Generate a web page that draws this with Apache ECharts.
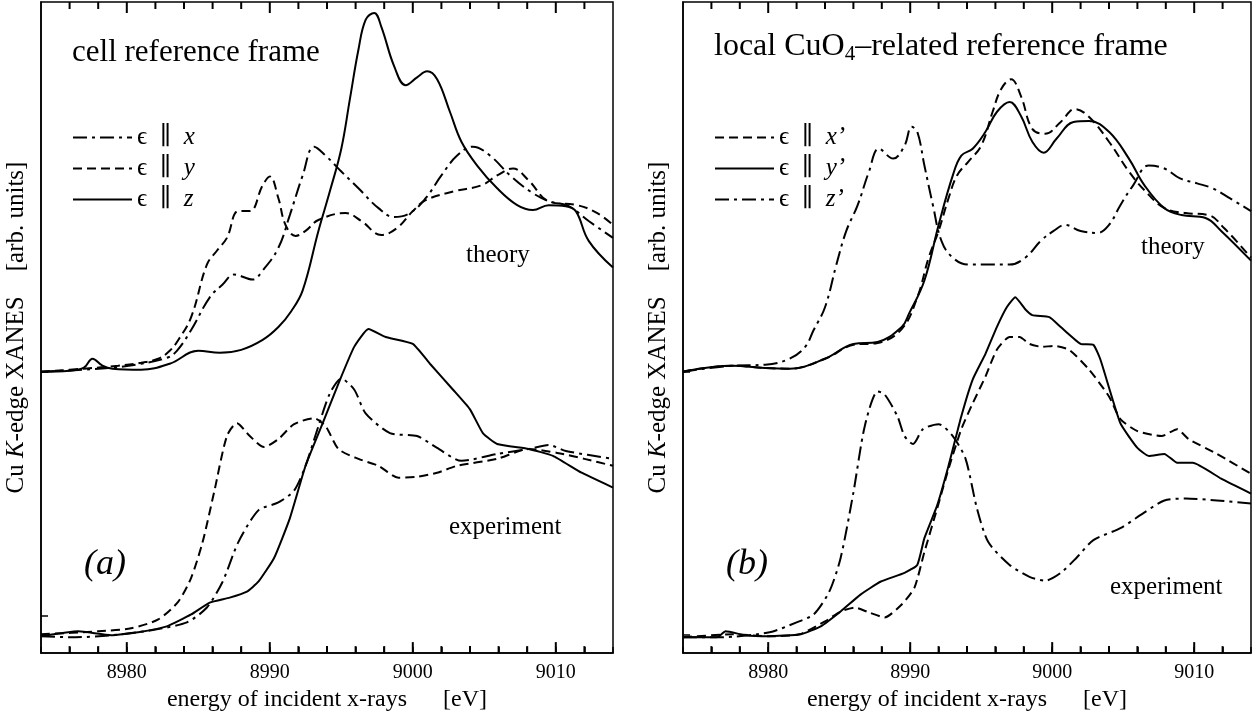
<!DOCTYPE html>
<html>
<head>
<meta charset="utf-8">
<script src="https://cdn.jsdelivr.net/npm/echarts@6/dist/echarts.min.js"></script>
<style>
  html, body { margin: 0; padding: 0; background: #fff; }
  #chart { width: 1256px; height: 717px; }
</style>
</head>
<body>
<div id="chart"></div>
<script>
// energy axis
const xMin = 8974;
const xMax = 9014;
const yMax = 657;
const majorTicks = [8980, 8990, 9000, 9010];
const minorTicks = [8976, 8978, 8982, 8984, 8986, 8988, 8992, 8994, 8996, 8998, 9002, 9004, 9006, 9008, 9012];

// panel (a): theory, cell reference frame  [eV, arb. units]
const thX_a = [[8974,284],[8977,286],[8979,288],[8981,292],[8982.8,298],[8983.5,305],[8984.5,326],[8985.8,359],[8986.7,372],[8987.5,382],[8988.8,377],[8989.5,386],[8990.6,409],[8991.4,442],[8992.3,482],[8993.1,511],[8993.9,502],[8995,486],[8996.2,469],[8997.6,449],[8998.7,440],[8999.8,444],[9000.9,459],[9002,482],[9003.1,502],[9004.2,511],[9005.4,502],[9006.8,482],[9008.2,466],[9009.5,456],[9010.9,451],[9012.3,436],[9014,419]];
const thY_a = [[8974,284],[8977,287],[8979.4,290],[8981,293],[8982.2,297],[8983,305],[8983.6,316],[8984.5,339],[8985.6,392],[8986.3,406],[8987,419],[8987.8,446],[8988.6,446],[8989.5,472],[8990,481],[8990.6,459],[8991.1,432],[8991.8,421],[8992.5,426],[8993.4,437],[8995.3,444],[8996.4,436],[8997.8,422],[8998.9,429],[9000,446],[9000.9,457],[9002.9,466],[9004.8,472],[9005.9,482],[9007,489],[9008.1,477],[9009.5,456],[9011.5,452],[9012.9,444],[9014,432]];
const thZ_a = [[8974,284],[8976,285],[8977,288],[8977.6,297],[8978.3,290],[8979,287],[8981,286],[8983,292],[8985,305],[8986.5,303],[8988,306],[8989.5,316],[8990.6,329],[8991.5,345],[8992.3,366],[8993.4,426],[8994.2,466],[8995,509],[8995.6,559],[8996.2,609],[8996.7,639],[8997.3,646],[8997.8,632],[8998.7,592],[8999.5,573],[9000.3,581],[9001,587],[9001.7,579],[9002.6,546],[9003.4,516],[9004.5,492],[9005.9,469],[9007.3,452],[9008.4,447],[9009.5,452],[9010.7,451],[9011.4,446],[9012.3,416],[9014,389]];

// panel (a): experiment
const exX_a = [[8974,17],[8976.4,16],[8978.9,18],[8981.7,23],[8984.2,31],[8985.6,46],[8986.7,72],[8987.8,112],[8989.2,144],[8990.6,152],[8991.7,164],[8992.5,189],[8993.4,229],[8994.2,262],[8995,277],[8995.9,266],[8996.7,242],[8998.4,222],[9000.3,219],[9001.7,207],[9003.4,194],[9005.9,201],[9008.1,206],[9009.5,210],[9010.7,204],[9014,196]];
const exY_a = [[8974,19],[8978,22],[8980.3,25],[8982.2,34],[8983.6,52],[8984.5,76],[8985.3,112],[8986.1,162],[8987,219],[8987.7,232],[8988.6,219],[8989.6,208],[8990.6,216],[8991.7,231],[8993.1,237],[8993.9,229],[8994.8,206],[8996.2,196],[8997.6,189],[8999,177],[9000.3,178],[9001.7,182],[9003.1,189],[9005.9,196],[9008.1,206],[9010.1,202],[9012,196],[9014,189]];
const exZ_a = [[8974,17],[8976.6,22],[8978.9,18],[8980.8,21],[8982.8,27],[8984.5,39],[8985.8,51],[8987.2,56],[8988.4,62],[8989.2,72],[8990.3,96],[8991.4,136],[8992.5,189],[8993.7,232],[8994.8,272],[8995.9,309],[8996.9,327],[8998.1,319],[9000,312],[9001.2,292],[9002.8,266],[9004,246],[9004.9,222],[9005.9,211],[9008.1,206],[9009.8,199],[9011.8,182],[9014,167]];

// panel (b): theory, local CuO4 frame
const thX_b = [[8974,284],[8977.5,290],[8979.5,288],[8981.5,287],[8984,297],[8986,311],[8987.7,313],[8989.4,327],[8990.5,359],[8991.3,399],[8992,426],[8992.7,459],[8993.3,482],[8994.1,496],[8995,512],[8995.8,546],[8996.4,569],[8997.1,579],[8997.8,562],[8998.6,529],[8999.5,524],[9000.6,536],[9001.6,549],[9002.6,541],[9004,516],[9005.4,486],[9006.5,467],[9007.9,449],[9009.4,444],[9011,442],[9012.1,429],[9014,399]];
const thY_b = [[8974,284],[8977.5,290],[8979.5,288],[8981.5,287],[8984,297],[8986,312],[8987.7,314],[8989.4,329],[8989.9,342],[8991,376],[8992,432],[8993,482],[8993.6,502],[8994.4,509],[8995.3,526],[8996.1,546],[8997,556],[8997.8,542],[8998.6,516],[8999.4,505],[9000.3,519],[9001.5,536],[9002.6,537],[9004,526],[9005.4,499],[9006.5,472],[9007.9,449],[9009.1,442],[9010.8,439],[9011.9,426],[9014,396]];
const thZ_b = [[8974,284],[8977.5,290],[8979.8,291],[8981.5,297],[8982.6,309],[8983.2,326],[8984,349],[8984.8,392],[8985.5,426],[8986.3,452],[8987.1,486],[8987.8,509],[8988.8,499],[8989.6,512],[8990.1,531],[8990.5,526],[8991,492],[8991.6,452],[8992.2,416],[8993,399],[8994.1,392],[8995.5,392],[8997,392],[8998.1,399],[8999.2,416],[9000.1,426],[9000.9,432],[9002,426],[9003.2,424],[9004,432],[9004.8,452],[9005.7,472],[9006.8,492],[9007.9,489],[9009,479],[9010.2,474],[9011.3,469],[9012.5,459],[9014,446]];

// panel (b): experiment
const exX_b = [[8974,16],[8977.5,19],[8980,17],[8982.2,19],[8984,32],[8985.1,42],[8986.1,46],[8987.1,41],[8988.2,36],[8989.4,49],[8990.3,66],[8991,102],[8991.9,146],[8992.7,186],[8993.6,226],[8994.4,252],[8995.3,279],[8996.1,306],[8997,319],[8997.7,319],[8998.4,312],[8999.3,309],[9000.1,310],[9001.2,306],[9002.6,286],[9004,259],[9004.8,236],[9006,224],[9007.7,219],[9008.8,226],[9009.6,216],[9011.6,201],[9014,181]];
const exY_b = [[8974,16],[8976.4,16],[8977,22],[8978.4,18],[8980,17],[8982.3,19],[8983.7,27],[8985.1,42],[8986.5,59],[8987.9,72],[8989.6,81],[8990.5,89],[8991,116],[8991.9,149],[8992.7,189],[8993.6,239],[8994.4,276],[8995.3,302],[8996.1,329],[8996.8,349],[8997.4,359],[8998.1,347],[8998.6,341],[8999.8,339],[9000.6,329],[9002,312],[9002.9,311],[9003.4,296],[9004.8,232],[9006,207],[9006.8,199],[9007.9,201],[9008.8,192],[9009.9,192],[9011.9,176],[9014,161]];
const exZ_b = [[8974,16],[8976.7,16],[8980.1,21],[8982,31],[8983.2,39],[8984.3,62],[8985.1,96],[8986,162],[8986.8,229],[8987.7,264],[8988.2,261],[8989.1,239],[8989.6,219],[8990.2,211],[8990.9,226],[8992,231],[8993,219],[8993.9,196],[8994.7,146],[8995.5,112],[8997,89],[8998.4,77],[8999.5,73],[9000.6,81],[9001.7,96],[9002.9,114],[9004.8,126],[9006.5,142],[9007.9,154],[9009.4,156],[9011.6,154],[9014,151]];

// y ticks marking the baselines
const yTicks_a = [38, 284];
const yTicks_b = [19, 284];

const serif = '"Liberation Serif", "DejaVu Serif", serif';
const DASH = [9, 5];
const DASHDOT = [14, 5, 3, 5];

function xAxis(gridIndex) {
  return {
    gridIndex: gridIndex, type: 'value', min: xMin, max: xMax, interval: 2,
    position: 'bottom',
    splitLine: { show: false },
    axisLine: { show: true, onZero: false, lineStyle: { color: '#000', width: 1.5 } },
    axisTick: { show: true, inside: true, length: 6, lineStyle: { color: '#000', width: 1.5 } },
    axisLabel: {
      margin: 10, color: '#000', fontSize: 20, fontFamily: serif,
      formatter: v => (v % 10 === 0 ? String(v) : '')
    },
    name: 'energy of incident x-rays      [eV]',
    nameLocation: 'middle', nameGap: 34,
    nameTextStyle: { color: '#000', fontSize: 24, fontFamily: serif }
  };
}

function yAxis(gridIndex, ticks) {
  return {
    gridIndex: gridIndex, type: 'value', min: 0, max: yMax,
    splitLine: { show: false },
    axisLine: { show: true, onZero: false, lineStyle: { color: '#000', width: 1.5 } },
    axisTick: { show: true, inside: true, length: 7, customValues: ticks, lineStyle: { color: '#000', width: 1.5 } },
    axisLabel: { show: false },
    name: 'Cu {i|K}-edge XANES    [arb. units]',
    nameLocation: 'middle', nameGap: 12,
    nameTextStyle: {
      color: '#000', fontSize: 25, fontFamily: serif,
      rich: { i: { fontStyle: 'italic', fontSize: 25, fontFamily: serif } }
    }
  };
}

function line(name, data, dash, gi, smooth) {
  return {
    name: name, type: 'line', data: data, xAxisIndex: gi, yAxisIndex: gi,
    symbol: 'none', smooth: smooth, silent: true,
    itemStyle: { color: '#000' },
    lineStyle: { color: '#000', width: 2, type: dash }
  };
}

const legendText = {
  color: '#000', fontSize: 25, fontFamily: serif,
  rich: { i: { fontStyle: 'italic', fontSize: 25, fontFamily: serif } }
};

function legend(names, left) {
  return {
    data: names, orient: 'vertical', left: left, top: 125, padding: 0,
    itemWidth: 59, itemHeight: 14, itemGap: 6, selectedMode: false,
    itemStyle: { opacity: 0 },
    formatter: n => 'ϵ  ∥  {i|' + n + '}', textStyle: legendText
  };
}

function label(x, y, text, size, extra) {
  return {
    type: 'text', x: x, y: y, silent: true,
    style: Object.assign({
      text: text, fill: '#000', font: size + 'px ' + serif,
      textAlign: 'left', textVerticalAlign: 'middle'
    }, extra || {})
  };
}

const labels = [
  label(72, 53, 'cell reference frame', 31),
  label(714, 47, '{t|local CuO}{s|4}{t|–related reference frame}', 32, {
    font: undefined,
    rich: {
      t: { fontSize: 32, fontFamily: serif, fill: '#000', verticalAlign: 'middle' },
      s: { fontSize: 21, fontFamily: serif, fill: '#000', padding: [14, 0, 0, 0] }
    }
  }),
  label(466, 255, 'theory', 25),
  label(449, 527, 'experiment', 25),
  label(84, 565, '(a)', 36, { font: 'italic 36px ' + serif }),
  label(1141, 247, 'theory', 25),
  label(1110, 587, 'experiment', 25),
  label(726, 565, '(b)', 36, { font: 'italic 36px ' + serif })
];

const chart = echarts.init(document.getElementById('chart'));
chart.setOption({
  backgroundColor: '#fff',
  animation: false,
  grid: [
    { left: 41, top: 2, width: 572, height: 657, show: true, borderColor: '#000', borderWidth: 1.5 },
    { left: 683, top: 2, width: 568, height: 657, show: true, borderColor: '#000', borderWidth: 1.5 }
  ],
  xAxis: [xAxis(0), xAxis(1)],
  yAxis: [yAxis(0, yTicks_a), yAxis(1, yTicks_b)],
  legend: [legend(['x', 'y', 'z'], 72), legend(['x’', 'y’', 'z’'], 714)],
  series: [
    line('x', thX_a, DASHDOT, 0, 0.4),
    line('y', thY_a, DASH, 0, 0.4),
    line('z', thZ_a, 'solid', 0, 0.4),
    line('x', exX_a, DASHDOT, 0, 0.25),
    line('y', exY_a, DASH, 0, 0.25),
    line('z', exZ_a, 'solid', 0, 0.15),
    line('x’', thX_b, DASH, 1, 0.4),
    line('y’', thY_b, 'solid', 1, 0.4),
    line('z’', thZ_b, DASHDOT, 1, 0.4),
    line('x’', exX_b, DASH, 1, 0.2),
    line('y’', exY_b, 'solid', 1, 0.15),
    line('z’', exZ_b, DASHDOT, 1, 0.25)
  ],
  graphic: labels
});

// inward energy ticks on top and bottom of each frame, placed via the x scale
const ticks = [];
[0, 1].forEach(gi => {
  majorTicks.map(v => [v, 11]).concat(minorTicks.map(v => [v, 7])).forEach(t => {
    const lo = chart.convertToPixel({ xAxisIndex: gi, yAxisIndex: gi }, [t[0], 0]);
    const hi = chart.convertToPixel({ xAxisIndex: gi, yAxisIndex: gi }, [t[0], yMax]);
    if (!lo || !hi) return;
    ticks.push({ type: 'rect', silent: true, z: 100, shape: { x: lo[0] - 1, y: lo[1] - t[1], width: 2, height: t[1] }, style: { fill: '#000' } });
    ticks.push({ type: 'rect', silent: true, z: 100, shape: { x: hi[0] - 1, y: hi[1], width: 2, height: t[1] }, style: { fill: '#000' } });
  });
});
chart.setOption({ graphic: labels.concat(ticks) });
</script>
</body>
</html>
